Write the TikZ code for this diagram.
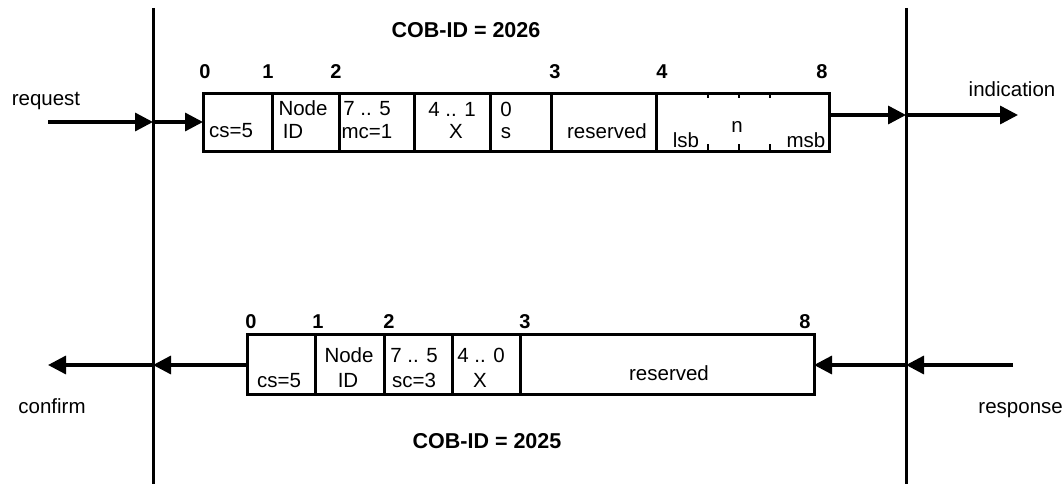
\documentclass[tikz,border=0pt]{standalone}
\usepackage{fontspec}
\setmainfont{Liberation Sans}
\usetikzlibrary{arrows.meta}
\begin{document}
\begin{tikzpicture}[x=1pt,y=-1pt,
  cell/.style={draw,line width=2.8pt,inner sep=0pt,anchor=north west,minimum height=#1},
  txt/.style={inner sep=0pt,anchor=base,font=\fontsize{20.5}{22}\selectfont},
  num/.style={inner sep=0pt,anchor=base,font=\fontsize{20}{22}\selectfont\bfseries},
  ttl/.style={inner sep=0pt,anchor=base,font=\fontsize{21.5}{24}\selectfont\bfseries},
  vline/.style={line width=3pt},
  arr/.style={line width=3.4pt,-{Triangle[length=18pt,width=18pt]}},
  tick/.style={line width=2.8pt,dash pattern=on 6pt off 46pt}]
\useasboundingbox (0,0) rectangle (1064,484);
% vertical lines
\coordinate (lt) at (153,8); \coordinate (lb) at (153,484);
\coordinate (rt) at (906,8); \coordinate (rb) at (906,484);
\draw[vline] (lt) -- (lb);
\draw[vline] (rt) -- (rb);
% top frame
\node[cell=58pt,minimum width=69pt] (t0) at (202,92) {};
\node[cell=58pt,minimum width=67pt] (t1) at (271,92) {};
\node[cell=58pt,minimum width=75pt] (t2) at (338,92) {};
\node[cell=58pt,minimum width=76pt] (t3) at (413,92) {};
\node[cell=58pt,minimum width=61pt] (t4) at (489,92) {};
\node[cell=58pt,minimum width=105pt] (t5) at (550,92) {};
\node[cell=58pt,minimum width=173pt] (t6) at (655,92) {};
\coordinate (d1t) at (708,92); \coordinate (d1b) at (708,150);
\coordinate (d2t) at (739,92); \coordinate (d2b) at (739,150);
\coordinate (d3t) at (770,92); \coordinate (d3b) at (770,150);
\draw[tick] (d1t) -- (d1b);
\draw[tick] (d2t) -- (d2b);
\draw[tick] (d3t) -- (d3b);
% top numbers
\node[num] (n0) at (205,79) {0};
\node[num] (n1) at (268,79) {1};
\node[num] (n2) at (336,79) {2};
\node[num] (n3) at (555,79) {3};
\node[num] (n4) at (662,79) {4};
\node[num] (n8) at (822,79) {8};
% top texts
\node[txt] (a1) at (231,137) {cs=5};
\node[txt] (a2) at (303,115) {Node};
\node[txt] (a3) at (293,138) {ID};
\node[txt] (a4) at (367,115) {7 .. 5};
\node[txt] (a5) at (367,138) {mc=1};
\node[txt] (a6) at (452,117) {4 .. 1};
\node[txt] (a7) at (456,139) {X};
\node[txt] (a8) at (506,117) {0};
\node[txt] (a9) at (506,139) {s};
\node[txt] (a10) at (607,138) {reserved};
\node[txt] (a11) at (686,147) {lsb};
\node[txt] (a12) at (737,132) {n};
\node[txt] (a13) at (806,147) {msb};
\node[ttl] (c1) at (466,38) {COB-ID = 2026};
% bottom frame
\node[cell=60pt,minimum width=68pt] (b0) at (246,333) {};
\node[cell=60pt,minimum width=69pt] (b1) at (314,333) {};
\node[cell=60pt,minimum width=68pt] (b2) at (383,333) {};
\node[cell=60pt,minimum width=68pt] (b3) at (451,333) {};
\node[cell=60pt,minimum width=294pt] (b4) at (519,333) {};
\node[num] (m0) at (251,328) {0};
\node[num] (m1) at (318,328) {1};
\node[num] (m2) at (389,328) {2};
\node[num] (m3) at (525,328) {3};
\node[num] (m8) at (805,328) {8};
\node[txt] (e1) at (279,387) {cs=5};
\node[txt] (e2) at (349,362) {Node};
\node[txt] (e3) at (348,387) {ID};
\node[txt] (e4) at (414,362) {7 .. 5};
\node[txt] (e5) at (414,387) {sc=3};
\node[txt] (e6) at (481,362) {4 .. 0};
\node[txt] (e7) at (480,387) {X};
\node[txt] (e8) at (669,380) {reserved};
\node[ttl] (c2) at (487,448) {COB-ID = 2025};
% side labels
\node[txt] (req) at (46,106) {request};
\node[txt] (ind) at (1012,97) {indication};
\node[txt] (con) at (52,413) {confirm};
\node[txt,anchor=base east] (res) at (1063,413) {response};
% arrows
\coordinate (rqs) at (48,122); \coordinate (rql) at (153,122); \coordinate (rqb) at (203,122);
\draw[arr] (rqs) -- (rql);
\draw[arr] (rql) -- (rqb);
\coordinate (inb) at (828,115); \coordinate (inl) at (906,115); \coordinate (ine) at (1018,115);
\draw[arr] (inb) -- (inl);
\draw[arr] (inl) -- (ine);
\coordinate (cnb) at (246,365); \coordinate (cnl) at (153,365); \coordinate (cne) at (48,365);
\draw[arr] (cnb) -- (cnl);
\draw[arr] (cnl) -- (cne);
\coordinate (rss) at (1013,365); \coordinate (rsl) at (906,365); \coordinate (rsb) at (814,365);
\draw[arr] (rss) -- (rsl);
\draw[arr] (rsl) -- (rsb);
\end{tikzpicture}
\end{document}
